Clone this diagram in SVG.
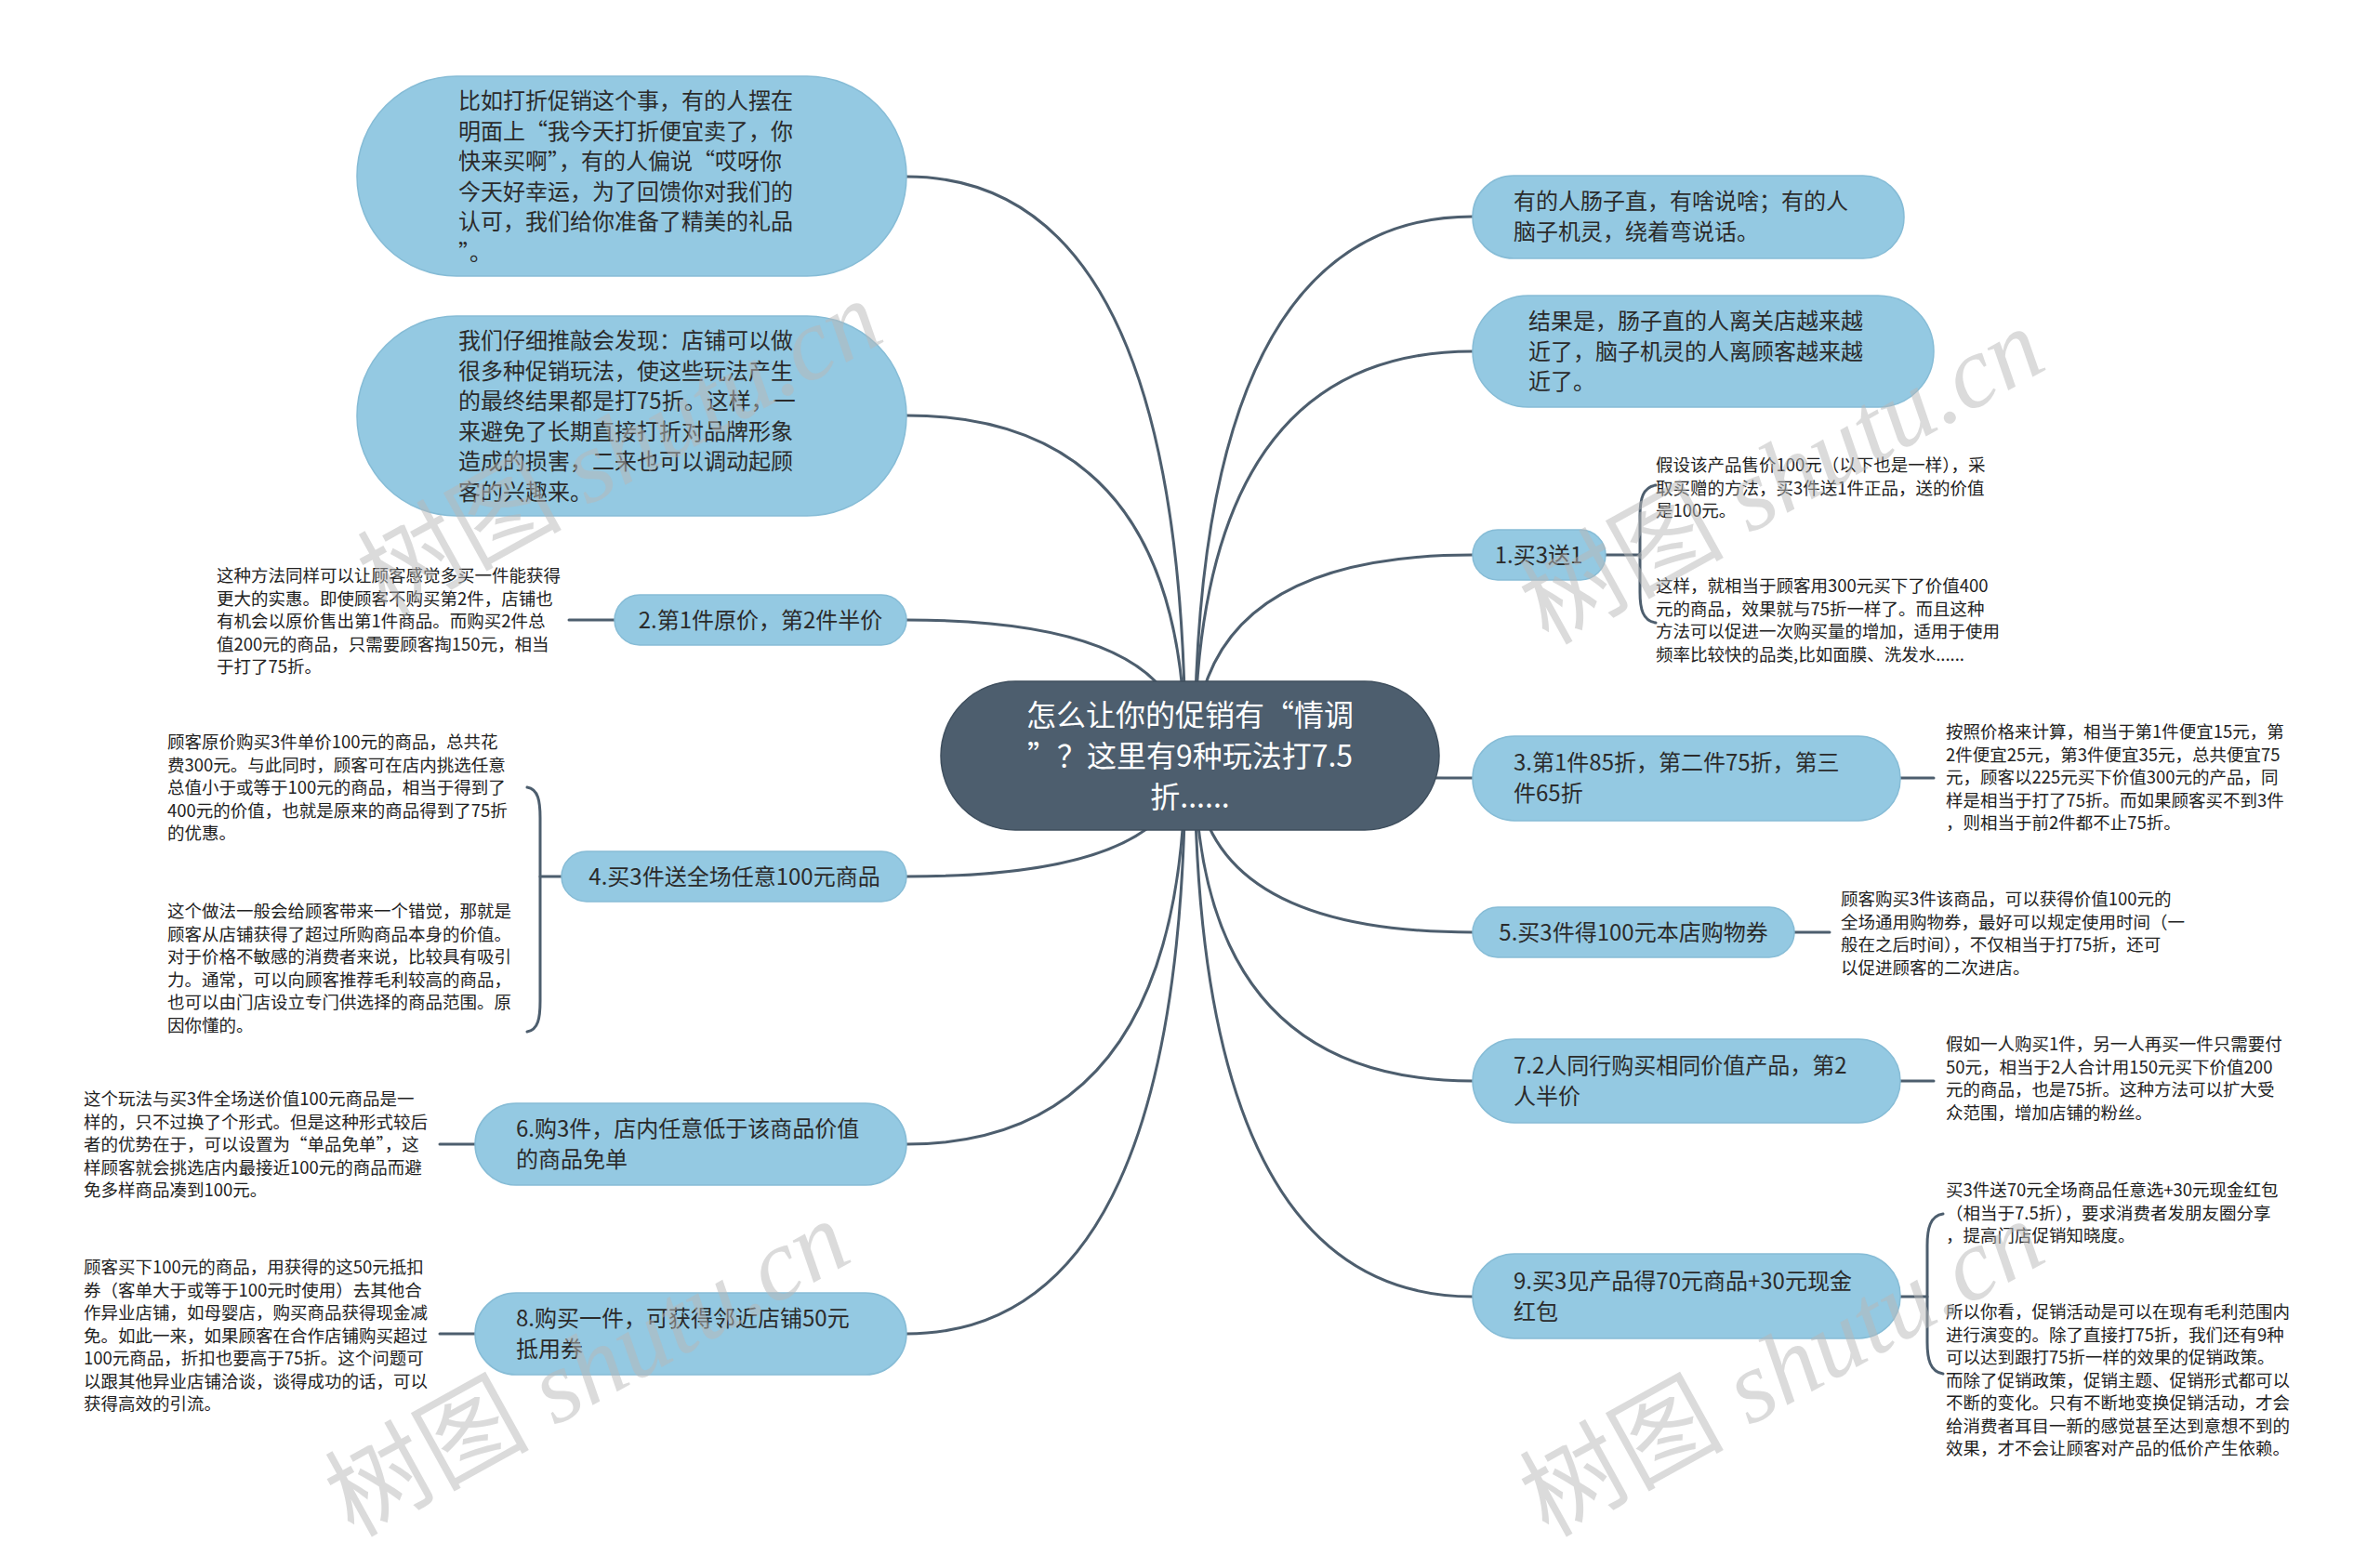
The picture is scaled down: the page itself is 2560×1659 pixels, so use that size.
<svg xmlns="http://www.w3.org/2000/svg" width="2560" height="1659" viewBox="0 0 2560 1659">
<style>
.node{fill:#94c9e2;stroke:#86bcd6;stroke-width:1.5}
.root{fill:#4d5e6e;stroke:#3f4f5e;stroke-width:1.5}
.nt{font-family:"Noto Sans CJK SC","Liberation Sans",sans-serif;font-size:24px;fill:#2b2b2b}
.rt{font-family:"Noto Sans CJK SC","Liberation Sans",sans-serif;font-size:32px;fill:#ffffff}
.note{font-family:"Noto Sans CJK SC","Liberation Sans",sans-serif;font-size:18.5px;fill:#222222}
.c{fill:none;stroke:#4d5e6e;stroke-width:3;stroke-linecap:round}
.wm{font-family:"Liberation Serif","Noto Sans CJK SC",serif;font-size:110px;fill:#b8b8b8;opacity:0.5}
</style>
<rect x="0" y="0" width="2560" height="1659" fill="#ffffff"/>
<g id="connectors">
<path class="c" d="M1275,813 Q1275,190 975,190"/>
<path class="c" d="M1275,813 Q1275,447 975,447"/>
<path class="c" d="M1275,813 Q1275,667 975,667"/>
<path class="c" d="M1275,813 Q1275,943 975,943"/>
<path class="c" d="M1275,813 Q1275,1231 975,1231"/>
<path class="c" d="M1275,813 Q1275,1435 975,1435"/>
<path class="c" d="M1285,813 Q1285,233 1584,233"/>
<path class="c" d="M1285,813 Q1285,378 1584,378"/>
<path class="c" d="M1285,813 Q1285,597 1584,597"/>
<path class="c" d="M1285,813 Q1285,837 1584,837"/>
<path class="c" d="M1285,813 Q1285,1003 1584,1003"/>
<path class="c" d="M1285,813 Q1285,1163 1584,1163"/>
<path class="c" d="M1285,813 Q1285,1395 1584,1395"/>
<path class="c" d="M612,667 L661,667"/>
<path class="c" d="M581,943 L604,943"/>
<path class="c" d="M567,847 C579,849 581,862 581,880 L581,1077 C581,1095 579,1108 567,1110"/>
<path class="c" d="M473,1231 L511,1231"/>
<path class="c" d="M473,1435 L511,1435"/>
<path class="c" d="M1727,597 L1764,597"/>
<path class="c" d="M1781,522 C1767,524 1764,537 1764,555 L1764,637 C1764,655 1767,668 1781,670"/>
<path class="c" d="M2044,837 L2080,837"/>
<path class="c" d="M1930,1003 L1968,1003"/>
<path class="c" d="M2044,1163 L2080,1163"/>
<path class="c" d="M2044,1395 L2073,1395"/>
<path class="c" d="M2090,1306 C2076,1308 2073,1322 2073,1340 L2073,1444 C2073,1462 2076,1476 2090,1478"/>
</g>
<g id="root">
<rect class="root" x="1012" y="733" width="536" height="160" rx="80"/>
<text class="rt" text-anchor="middle"><tspan x="1280" y="781">怎么让你的促销有“情调</tspan><tspan x="1280" y="825">”？这里有9种玩法打7.5</tspan><tspan x="1280" y="869">折......</tspan></text>
</g>
<g id="n-l1">
<rect class="node" x="384" y="82" width="591" height="215" rx="107"/>
<text class="nt"><tspan x="493" y="117">比如打折促销这个事，有的人摆在</tspan><tspan x="493" y="149.6">明面上“我今天打折便宜卖了，你</tspan><tspan x="493" y="182.2">快来买啊”，有的人偏说“哎呀你</tspan><tspan x="493" y="214.8">今天好幸运，为了回馈你对我们的</tspan><tspan x="493" y="247.4">认可，我们给你准备了精美的礼品</tspan><tspan x="493" y="280">”。</tspan></text>
</g>
<g id="n-l2">
<rect class="node" x="384" y="340" width="591" height="215" rx="107"/>
<text class="nt"><tspan x="493" y="375">我们仔细推敲会发现：店铺可以做</tspan><tspan x="493" y="407.6">很多种促销玩法，使这些玩法产生</tspan><tspan x="493" y="440.2">的最终结果都是打75折。这样，一</tspan><tspan x="493" y="472.8">来避免了长期直接打折对品牌形象</tspan><tspan x="493" y="505.4">造成的损害，二来也可以调动起顾</tspan><tspan x="493" y="538">客的兴趣来。</tspan></text>
</g>
<g id="n-l3">
<rect class="node" x="661" y="640" width="314" height="54" rx="27"/>
<text class="nt" x="818" y="676" text-anchor="middle">2.第1件原价，第2件半价</text>
<text class="note"><tspan x="233" y="626">这种方法同样可以让顾客感觉多买一件能获得</tspan><tspan x="233" y="650.5">更大的实惠。即使顾客不购买第2件，店铺也</tspan><tspan x="233" y="675">有机会以原价售出第1件商品。而购买2件总</tspan><tspan x="233" y="699.5">值200元的商品，只需要顾客掏150元，相当</tspan><tspan x="233" y="724">于打了75折。</tspan></text>
</g>
<g id="n-l4">
<rect class="node" x="604" y="916" width="371" height="54" rx="27"/>
<text class="nt" x="790" y="952" text-anchor="middle">4.买3件送全场任意100元商品</text>
<text class="note"><tspan x="180" y="805">顾客原价购买3件单价100元的商品，总共花</tspan><tspan x="180" y="829.5">费300元。与此同时，顾客可在店内挑选任意</tspan><tspan x="180" y="854">总值小于或等于100元的商品，相当于得到了</tspan><tspan x="180" y="878.5">400元的价值，也就是原来的商品得到了75折</tspan><tspan x="180" y="903">的优惠。</tspan></text>
<text class="note"><tspan x="180" y="987">这个做法一般会给顾客带来一个错觉，那就是</tspan><tspan x="180" y="1011.5">顾客从店铺获得了超过所购商品本身的价值。</tspan><tspan x="180" y="1036">对于价格不敏感的消费者来说，比较具有吸引</tspan><tspan x="180" y="1060.5">力。通常，可以向顾客推荐毛利较高的商品，</tspan><tspan x="180" y="1085">也可以由门店设立专门供选择的商品范围。原</tspan><tspan x="180" y="1109.5">因你懂的。</tspan></text>
</g>
<g id="n-l5">
<rect class="node" x="511" y="1187" width="464" height="88" rx="44"/>
<text class="nt"><tspan x="555" y="1223">6.购3件，店内任意低于该商品价值</tspan><tspan x="555" y="1255.6">的商品免单</tspan></text>
<text class="note"><tspan x="90" y="1189">这个玩法与买3件全场送价值100元商品是一</tspan><tspan x="90" y="1213.5">样的，只不过换了个形式。但是这种形式较后</tspan><tspan x="90" y="1238">者的优势在于，可以设置为“单品免单”，这</tspan><tspan x="90" y="1262.5">样顾客就会挑选店内最接近100元的商品而避</tspan><tspan x="90" y="1287">免多样商品凑到100元。</tspan></text>
</g>
<g id="n-l6">
<rect class="node" x="511" y="1391" width="464" height="88" rx="44"/>
<text class="nt"><tspan x="555" y="1427">8.购买一件，可获得邻近店铺50元</tspan><tspan x="555" y="1459.6">抵用券</tspan></text>
<text class="note"><tspan x="90" y="1370">顾客买下100元的商品，用获得的这50元抵扣</tspan><tspan x="90" y="1394.5">券（客单大于或等于100元时使用）去其他合</tspan><tspan x="90" y="1419">作异业店铺，如母婴店，购买商品获得现金减</tspan><tspan x="90" y="1443.5">免。如此一来，如果顾客在合作店铺购买超过</tspan><tspan x="90" y="1468">100元商品，折扣也要高于75折。这个问题可</tspan><tspan x="90" y="1492.5">以跟其他异业店铺洽谈，谈得成功的话，可以</tspan><tspan x="90" y="1517">获得高效的引流。</tspan></text>
</g>
<g id="n-r1">
<rect class="node" x="1584" y="189" width="464" height="89" rx="44"/>
<text class="nt"><tspan x="1628" y="225">有的人肠子直，有啥说啥；有的人</tspan><tspan x="1628" y="257.6">脑子机灵，绕着弯说话。</tspan></text>
</g>
<g id="n-r2">
<rect class="node" x="1584" y="318" width="496" height="120" rx="60"/>
<text class="nt"><tspan x="1644" y="354">结果是，肠子直的人离关店越来越</tspan><tspan x="1644" y="386.6">近了，脑子机灵的人离顾客越来越</tspan><tspan x="1644" y="419.2">近了。</tspan></text>
</g>
<g id="n-r3">
<rect class="node" x="1584" y="570" width="143" height="54" rx="27"/>
<text class="nt" x="1655" y="606" text-anchor="middle">1.买3送1</text>
<text class="note"><tspan x="1781" y="507">假设该产品售价100元（以下也是一样），采</tspan><tspan x="1781" y="531.5">取买赠的方法，买3件送1件正品，送的价值</tspan><tspan x="1781" y="556">是100元。</tspan></text>
<text class="note"><tspan x="1781" y="637">这样，就相当于顾客用300元买下了价值400</tspan><tspan x="1781" y="661.5">元的商品，效果就与75折一样了。而且这种</tspan><tspan x="1781" y="686">方法可以促进一次购买量的增加，适用于使用</tspan><tspan x="1781" y="710.5">频率比较快的品类,比如面膜、洗发水......</tspan></text>
</g>
<g id="n-r4">
<rect class="node" x="1584" y="792" width="460" height="91" rx="45"/>
<text class="nt"><tspan x="1628" y="829">3.第1件85折，第二件75折，第三</tspan><tspan x="1628" y="861.6">件65折</tspan></text>
<text class="note"><tspan x="2093" y="794">按照价格来计算，相当于第1件便宜15元，第</tspan><tspan x="2093" y="818.5">2件便宜25元，第3件便宜35元，总共便宜75</tspan><tspan x="2093" y="843">元，顾客以225元买下价值300元的产品，同</tspan><tspan x="2093" y="867.5">样是相当于打了75折。而如果顾客买不到3件</tspan><tspan x="2093" y="892">，则相当于前2件都不止75折。</tspan></text>
</g>
<g id="n-r5">
<rect class="node" x="1584" y="976" width="346" height="54" rx="27"/>
<text class="nt" x="1757" y="1012" text-anchor="middle">5.买3件得100元本店购物券</text>
<text class="note"><tspan x="1980" y="974">顾客购买3件该商品，可以获得价值100元的</tspan><tspan x="1980" y="998.5">全场通用购物券，最好可以规定使用时间（一</tspan><tspan x="1980" y="1023">般在之后时间），不仅相当于打75折，还可</tspan><tspan x="1980" y="1047.5">以促进顾客的二次进店。</tspan></text>
</g>
<g id="n-r6">
<rect class="node" x="1584" y="1118" width="460" height="90" rx="45"/>
<text class="nt"><tspan x="1628" y="1155">7.2人同行购买相同价值产品，第2</tspan><tspan x="1628" y="1187.6">人半价</tspan></text>
<text class="note"><tspan x="2093" y="1130">假如一人购买1件，另一人再买一件只需要付</tspan><tspan x="2093" y="1154.5">50元，相当于2人合计用150元买下价值200</tspan><tspan x="2093" y="1179">元的商品，也是75折。这种方法可以扩大受</tspan><tspan x="2093" y="1203.5">众范围，增加店铺的粉丝。</tspan></text>
</g>
<g id="n-r7">
<rect class="node" x="1584" y="1349" width="460" height="91" rx="45"/>
<text class="nt"><tspan x="1628" y="1387">9.买3见产品得70元商品+30元现金</tspan><tspan x="1628" y="1419.6">红包</tspan></text>
<text class="note"><tspan x="2093" y="1287">买3件送70元全场商品任意选+30元现金红包</tspan><tspan x="2093" y="1311.5">（相当于7.5折），要求消费者发朋友圈分享</tspan><tspan x="2093" y="1336">，提高门店促销知晓度。</tspan></text>
<text class="note"><tspan x="2093" y="1418">所以你看，促销活动是可以在现有毛利范围内</tspan><tspan x="2093" y="1442.5">进行演变的。除了直接打75折，我们还有9种</tspan><tspan x="2093" y="1467">可以达到跟打75折一样的效果的促销政策。</tspan><tspan x="2093" y="1491.5">而除了促销政策，促销主题、促销形式都可以</tspan><tspan x="2093" y="1516">不断的变化。只有不断地变换促销活动，才会</tspan><tspan x="2093" y="1540.5">给消费者耳目一新的感觉甚至达到意想不到的</tspan><tspan x="2093" y="1565">效果，才不会让顾客对产品的低价产生依赖。</tspan></text>
</g>
<g id="watermarks">
<text class="wm" text-anchor="middle" transform="translate(685,515) rotate(-29)">树图 <tspan font-style="italic">shutu.cn</tspan></text>
<text class="wm" text-anchor="middle" transform="translate(1935,545) rotate(-29)">树图 <tspan font-style="italic">shutu.cn</tspan></text>
<text class="wm" text-anchor="middle" transform="translate(650,1505) rotate(-29)">树图 <tspan font-style="italic">shutu.cn</tspan></text>
<text class="wm" text-anchor="middle" transform="translate(1935,1505) rotate(-29)">树图 <tspan font-style="italic">shutu.cn</tspan></text>
</g>
</svg>
